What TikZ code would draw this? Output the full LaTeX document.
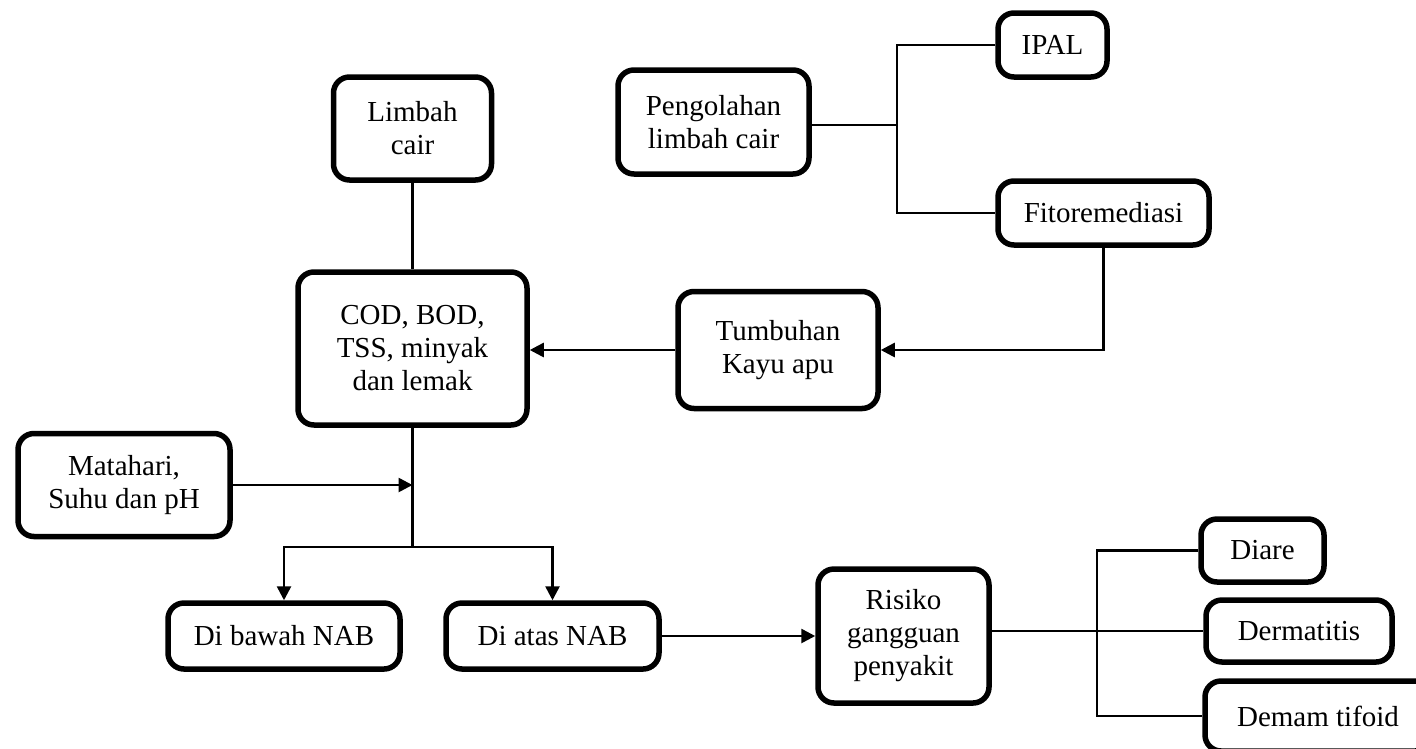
\documentclass[tikz,border=0pt]{standalone}
\usepackage{fontspec}
\setmainfont{Liberation Serif}
\usetikzlibrary{arrows.meta}
\begin{document}
\begin{tikzpicture}[x=1pt,y=-1pt,
  box/.style={draw=black, line width=5.5pt, rounded corners=16pt, fill=white,
    align=center, inner sep=2pt, font=\fontsize{29}{33}\selectfont},
  conn/.style={draw=black, line width=2.6pt},
  arr/.style={conn, -{Triangle[length=14pt,width=14pt]}}]
\fill[white] (0,0) rectangle (1416,748);
\useasboundingbox (0,0) rectangle (1416,748);
% nodes
\node[box, minimum width=158pt, minimum height=103pt] (limbah) at (412.5,128.5) {Limbah\\cair};
\node[box, minimum width=191pt, minimum height=104pt] (peng) at (713.5,122) {Pengolahan\\limbah cair};
\node[box, minimum width=109pt, minimum height=64pt] (ipal) at (1052.5,45) {IPAL};
\node[box, minimum width=211pt, minimum height=64pt] (fito) at (1103.5,213) {Fitoremediasi};
\node[box, minimum width=229pt, minimum height=153pt] (cod) at (412.5,348.5) {COD, BOD,\\TSS, minyak\\dan lemak};
\node[box, minimum width=200pt, minimum height=117pt] (tumb) at (778,350) {Tumbuhan\\Kayu apu};
\node[box, minimum width=212pt, minimum height=103pt] (mata) at (124,485) {Matahari,\\Suhu dan pH};
\node[box, minimum width=232pt, minimum height=66pt] (bawah) at (284,636) {Di bawah NAB};
\node[box, minimum width=213pt, minimum height=66pt] (atas) at (552.5,636) {Di atas NAB};
\node[box, minimum width=171pt, minimum height=134pt] (risiko) at (903.5,636) {Risiko\\gangguan\\penyakit};
\node[box, minimum width=123pt, minimum height=63pt] (diare) at (1262.5,550.5) {Diare};
\node[box, minimum width=186pt, minimum height=62pt] (derm) at (1299,631) {Dermatitis};
\node[box, minimum width=226pt, minimum height=70pt] (demam) at (1318,716) {Demam tifoid};
% junction points
\coordinate (jp) at (897,125);
\coordinate (jb) at (412.5,547);
\coordinate (jr) at (1097,0);
% connectors
\draw[conn] (limbah.south) -- (cod.north);
\draw[conn] (peng.east |- jp) -- (jp);
\draw[conn] (ipal.west) -| (jp) |- (fito.west);
\draw[arr] (fito.south) |- (tumb.east);
\draw[arr] (tumb.west) -- (tumb.west -| cod.east);
\draw[conn] (cod.south) -- (jb);
\draw[arr] (mata.east) -- (mata.east -| jb);
\draw[arr] (jb) -| (bawah.north);
\draw[arr] (jb) -| (atas.north);
\draw[arr] (atas.east) -- (risiko.west);
\draw[conn] (risiko.east |- derm.west) -- (derm.west);
\draw[conn] (diare.west) -- (diare.west -| jr) -- (demam.west -| jr) -- (demam.west);
\end{tikzpicture}
\end{document}
